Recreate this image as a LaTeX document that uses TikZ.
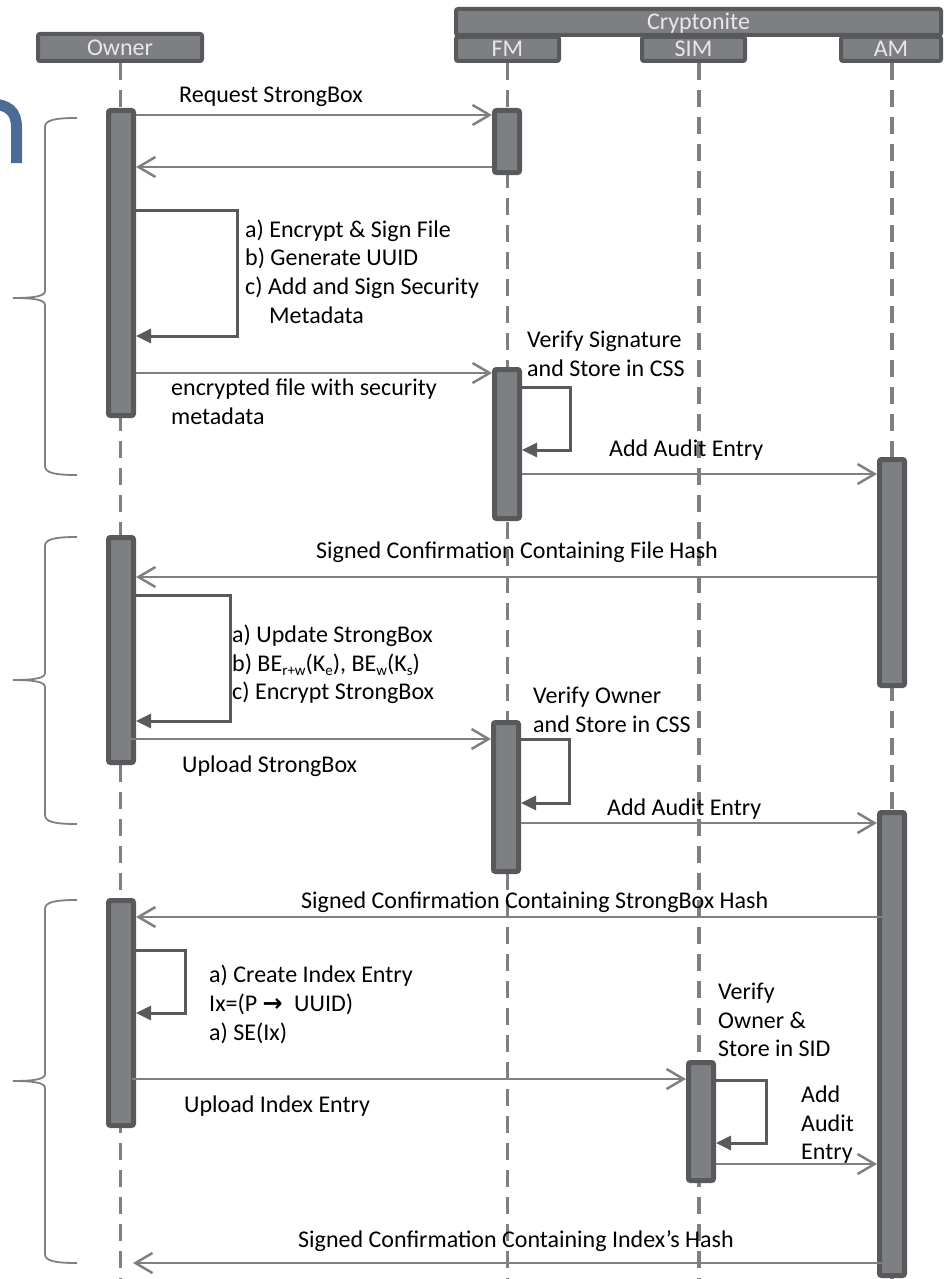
\documentclass[tikz,border=0pt]{standalone}
\usepackage{fontspec}
\setmainfont{Carlito}
\newfontfamily\arrowfont{DejaVu Sans}
\usetikzlibrary{arrows.meta}

\definecolor{hdrfill}{HTML}{7E7F83}
\definecolor{hdrline}{HTML}{58595B}
\definecolor{hdrtext}{HTML}{E8E8E8}
\definecolor{msgline}{HTML}{808080}
\definecolor{loopline}{HTML}{5A5A5A}
\definecolor{titleblue}{HTML}{4A6C97}
\definecolor{bracegray}{HTML}{808080}

% lowered small index, as in BE_{r+w}
\newcommand\lowidx[1]{\raisebox{-0.18em}{\fontsize{15}{15}\selectfont #1}}

% left-hand curly bracket grouping one phase: top, tip, bottom
\newcommand\sidebrace[3]{%
  \draw[bracket] (77,#1) .. controls (55,#1) and (45,#1+2) .. (45,#1+9)
    -- (45,#2-7) .. controls (45,#2-2) and (35,#2) .. (13,#2)
    .. controls (35,#2) and (45,#2+2) .. (45,#2+7)
    -- (45,#3-9) .. controls (45,#3-2) and (55,#3) .. (77,#3);}

\tikzset{
  hdr/.style={draw=hdrline, fill=hdrfill, line width=4pt, rounded corners=2pt,
    inner sep=0pt, text=hdrtext, text height=16pt, text depth=0pt,
    font=\fontsize{24}{28.8}\selectfont},
  bar/.style={draw=hdrline, fill=hdrfill, line width=5pt, rounded corners=2pt,
    minimum width=25pt, inner sep=0pt},
  life/.style={draw=msgline, line width=3.5pt, dash pattern=on 17pt off 10pt},
  msg/.style={draw=msgline, line width=2.5pt,
    -{Straight Barb[length=17pt,width=20pt]}},
  selfloop/.style={draw=loopline, line width=3pt,
    -{Triangle[length=15pt,width=14pt]}},
  lbl/.style={anchor=base west, inner sep=0pt, font=\fontsize{24}{28.8}\selectfont},
  bracket/.style={draw=bracegray, line width=1.8pt},
}

\begin{document}
\begin{tikzpicture}[x=1pt, y=-1pt]
\useasboundingbox (0,0) rectangle (947,1279);

% partial title letter at the top-left edge
\draw[titleblue, line width=11pt] (-15,103.5) .. controls (10,103.5) and (16.5,112) .. (16.5,128) -- (16.5,163);

% participants
\node[hdr, minimum width=164pt, minimum height=27pt] (owner) at (120,47.5) {Owner};
\node[hdr, minimum width=485pt, minimum height=26pt] (crypto) at (698.5,22) {Cryptonite};
\node[hdr, minimum width=103pt, minimum height=24pt] (fm) at (507.5,49) {FM};
\node[hdr, minimum width=103pt, minimum height=24pt] (sim) at (693.5,49) {SIM};
\node[hdr, minimum width=100pt, minimum height=24pt] (am) at (891,49) {AM};

% lifelines
\coordinate (ownerend) at (120.5,1285);
\coordinate (fmend) at (507.5,1285);
\coordinate (simend) at (699,1285);
\coordinate (amend) at (892,1285);
\draw[life] (owner.south -| ownerend) -- (ownerend);
\draw[life] (fm.south -| fmend) -- (fmend);
\draw[life] (sim.south -| simend) -- (simend);
\draw[life] (am.south -| amend) -- (amend);

% activation bars
\node[bar, minimum height=305pt] (ob1) at (121,263) {};
\node[bar, minimum height=62pt]  (fb1) at (507,141.5) {};
\node[bar, minimum height=149pt] (fb2) at (507,444) {};
\node[bar, minimum height=226pt] (ab1) at (892,572.5) {};
\node[bar, minimum height=225pt] (ob2) at (121,650) {};
\node[bar, minimum height=149pt] (fb3) at (506,797) {};
\node[bar, minimum height=463pt] (ab2) at (892,1044) {};
\node[bar, minimum height=225pt] (ob3) at (121,1013) {};
\node[bar, minimum height=118pt] (simb) at (701,1121.5) {};

% phase brackets
\sidebrace{118}{298}{475}
\sidebrace{537}{680}{824}
\sidebrace{900}{1081}{1263}

% ---- phase 1: store the file
\draw[msg] (ob1.east |- 0,115) -- (fb1.west |- 0,115);
\node[lbl] (l1) at (179,103) {Request StrongBox};
\draw[msg] (fb1.west |- 0,167) -- (ob1.east |- 0,167);

\draw[selfloop] (ob1.east |- 0,210) -- ++(101,0) |- (ob1.east |- 0,336);
\node[lbl] (l2a) at (245,237) {a) Encrypt \& Sign File};
\node[lbl] (l2b) at (245,265) {b) Generate UUID};
\node[lbl] (l2c) at (245,294) {c) Add and Sign Security};
\node[lbl] (l2d) at (269,323) {Metadata};

\draw[msg] (ob1.east |- 0,373) -- (fb2.west |- 0,373);
\node[lbl] (l3a) at (171,395) {encrypted file with security};
\node[lbl] (l3b) at (171,424) {metadata};

\draw[selfloop] (fb2.east |- 0,387) -- ++(48,0) |- (fb2.east |- 0,450);
\node[lbl] (l4a) at (527,347) {Verify Signature};
\node[lbl] (l4b) at (527,376) {and Store in CSS};

\draw[msg] (fb2.east |- 0,474) -- (ab1.west |- 0,474);
\node[lbl] (l5) at (609,456) {Add Audit Entry};

% ---- phase 2: update the StrongBox
\draw[msg] (ab1.west |- 0,577) -- (ob2.east |- 0,577);
\node[lbl] (l6) at (316,558) {Signed Confirmation Containing File Hash};

\draw[selfloop] (ob2.east |- 0,595) -- ++(94,0) |- (ob2.east |- 0,721);
\node[lbl] (l7a) at (232,642) {a) Update StrongBox};
\node[lbl] (l7b) at (232,671) {b) BE\lowidx{r+w}(K\lowidx{e}), BE\lowidx{w}(K\lowidx{s})};
\node[lbl] (l7c) at (232,699) {c) Encrypt StrongBox};

\draw[msg] ([xshift=4pt]ob2.center |- 0,739) -- (fb3.west |- 0,739);
\node[lbl] (l8) at (182,772) {Upload StrongBox};

\draw[selfloop] (fb3.east |- 0,739) -- ++(48,0) |- (fb3.east |- 0,803);
\node[lbl] (l9a) at (533,703) {Verify Owner};
\node[lbl] (l9b) at (533,732) {and Store in CSS};

\draw[msg] (fb3.east |- 0,823) -- (ab2.west |- 0,823);
\node[lbl] (l10) at (607,815) {Add Audit Entry};

% ---- phase 3: index the file
\draw[msg] ([xshift=5pt]ab2.west |- 0,917) -- (ob3.east |- 0,917);
\node[lbl] (l11) at (301,908) {Signed Confirmation Containing StrongBox Hash};

\draw[selfloop] (ob3.east |- 0,950) -- ++(49,0) |- (ob3.east |- 0,1013);
\node[lbl] (l12a) at (209,982) {a) Create Index Entry};
\node[lbl] (l12b) at (209,1011) {Ix=(P {\arrowfont\bfseries →}\hspace{6pt} UUID)};
\node[lbl] (l12c) at (209,1040) {a) SE(Ix)};

\draw[msg] ([xshift=-4pt]ob3.east |- 0,1079) -- (simb.west |- 0,1079);
\node[lbl] (l13) at (184,1112) {Upload Index Entry};

\draw[selfloop] (simb.east |- 0,1080) -- ++(50,0) |- (simb.east |- 0,1143);
\node[lbl] (l14a) at (718,999) {Verify};
\node[lbl] (l14b) at (718,1028) {Owner \&};
\node[lbl] (l14c) at (718,1056) {Store in SID};

\draw[msg] (simb.east |- 0,1164) -- (ab2.west |- 0,1164);
\node[lbl] (l15a) at (801,1102) {Add};
\node[lbl] (l15b) at (801,1131) {Audit};
\node[lbl] (l15c) at (801,1159) {Entry};

\coordinate (oret) at (133,1263);
\draw[msg] ([xshift=5pt]ab2.west |- 0,1263) -- (oret);
\node[lbl] (l16) at (298,1247) {Signed Confirmation Containing Index’s Hash};
\end{tikzpicture}
\end{document}
